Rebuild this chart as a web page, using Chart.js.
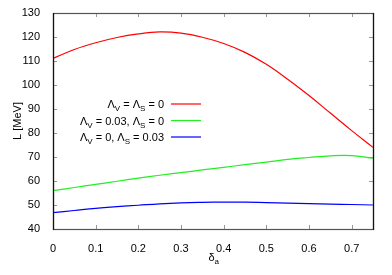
<!DOCTYPE html>
<html>
<head>
<meta charset="utf-8">
<script src="https://cdn.jsdelivr.net/npm/chart.js@4"></script>
<style>
  html, body { margin: 0; padding: 0; background: #fff; }
  #wrap { width: 392px; height: 275px; }
</style>
</head>
<body>
<div id="wrap"><canvas id="chart" width="392" height="275"></canvas></div>
<script>
// valores
const delta = [0, 0.05, 0.1, 0.15, 0.2, 0.25, 0.3, 0.35, 0.4, 0.45, 0.5, 0.55, 0.6, 0.65, 0.7, 0.75];
const redL = [111.1, 114.8, 117.6, 119.8, 121.3, 122.1, 121.6, 119.9, 117.3, 113.6, 108.6, 102.4, 95.6, 88.3, 81.0, 74.0];
const greenL = [56.0, 57.3, 58.6, 59.9, 61.2, 62.4, 63.5, 64.6, 65.7, 66.8, 67.9, 69.0, 69.8, 70.5, 70.6, 69.5];
const blueL = [46.8, 47.7, 48.6, 49.3, 49.9, 50.5, 50.9, 51.1, 51.2, 51.2, 51.0, 50.8, 50.6, 50.4, 50.2, 50.0];
const yTicks = [40, 50, 60, 70, 80, 90, 100, 110, 120, 130];
const xTicks = [0, 0.1, 0.2, 0.3, 0.4, 0.5, 0.6, 0.7];

// legenda: pedaços de texto [texto, subscrito?]
const legendLabels = [
  [['Λ', 0], ['V', 1], [' = Λ', 0], ['S', 1], [' = 0', 0]],
  [['Λ', 0], ['V', 1], [' = 0.03, Λ', 0], ['S', 1], [' = 0', 0]],
  [['Λ', 0], ['V', 1], [' = 0, Λ', 0], ['S', 1], [' = 0.03', 0]]
];
const colors = ['#ff0000', '#22ee22', '#0000ff'];

const FONT = 'Liberation Sans, Arial, Helvetica, sans-serif';

function pts(ys) {
  return delta.map((x, i) => ({ x: x, y: ys[i] }));
}

function drawRich(ctx, parts, xRight, yBase) {
  // mede primeiro para alinhar à direita
  let w = 0;
  parts.forEach(p => {
    ctx.font = (p[1] ? 8 : 11) + 'px ' + FONT;
    w += ctx.measureText(p[0]).width;
  });
  let x = xRight - w;
  parts.forEach(p => {
    ctx.font = (p[1] ? 8 : 11) + 'px ' + FONT;
    ctx.fillText(p[0], x, yBase + (p[1] ? 3 : 0));
    x += ctx.measureText(p[0]).width;
  });
}

const framePlugin = {
  id: 'frame',
  afterDraw(chart) {
    const ctx = chart.ctx;
    const a = chart.chartArea;
    const xs = chart.scales.x, ys = chart.scales.y;
    ctx.save();
    // marcas para dentro nos quatro lados
    ctx.strokeStyle = '#999';
    ctx.lineWidth = 1;
    ctx.beginPath();
    xTicks.forEach(v => {
      const px = Math.round(xs.getPixelForValue(v)) + 0.5;
      ctx.moveTo(px, a.bottom); ctx.lineTo(px, a.bottom - 4);
      ctx.moveTo(px, a.top); ctx.lineTo(px, a.top + 4);
    });
    yTicks.forEach(v => {
      const py = Math.round(ys.getPixelForValue(v)) + 0.5;
      ctx.moveTo(a.left, py); ctx.lineTo(a.left + 4, py);
      ctx.moveTo(a.right, py); ctx.lineTo(a.right - 4, py);
    });
    ctx.stroke();
    // borda
    ctx.lineWidth = 1.2;
    ctx.strokeStyle = '#555';
    ctx.strokeRect(a.left + 0.5, a.top + 0.5, a.right - a.left, a.bottom - a.top);
    ctx.strokeStyle = '#111';
    ctx.beginPath();
    ctx.moveTo(a.left + 0.5, a.top); ctx.lineTo(a.left + 0.5, a.bottom + 1);
    ctx.moveTo(a.right + 0.5, a.top); ctx.lineTo(a.right + 0.5, a.bottom + 1);
    ctx.stroke();

    // legenda
    ctx.fillStyle = '#000';
    ctx.textBaseline = 'alphabetic';
    legendLabels.forEach((parts, i) => {
      const rowY = a.top + 91 + i * 16.5;
      drawRich(ctx, parts, a.left + 111, rowY + 4);
      ctx.strokeStyle = colors[i];
      ctx.lineWidth = 1.2;
      ctx.beginPath();
      ctx.moveTo(a.left + 118, rowY);
      ctx.lineTo(a.left + 148, rowY);
      ctx.stroke();
    });

    // títulos dos eixos
    ctx.fillStyle = '#000';
    drawRich(ctx, [['δ', 0], ['a', 1]], (a.left + a.right) / 2 + 6, 261);
    ctx.translate(21, (a.top + a.bottom) / 2);
    ctx.rotate(-Math.PI / 2);
    ctx.font = '11px ' + FONT;
    ctx.textAlign = 'center';
    ctx.fillText('L [MeV]', 0, 0);
    ctx.restore();
  }
};

const ctx = document.getElementById('chart').getContext('2d');
const chart = new Chart(ctx, {
  type: 'line',
  data: {
    datasets: [
      { data: pts(redL), borderColor: colors[0] },
      { data: pts(greenL), borderColor: colors[1] },
      { data: pts(blueL), borderColor: colors[2] }
    ].map(d => Object.assign(d, {
      borderWidth: 1.2,
      pointRadius: 0,
      fill: false,
      tension: 0.4
    }))
  },
  options: {
    responsive: false,
    animation: false,
    layout: { padding: { top: 13, right: 19, left: 0, bottom: 0 } },
    plugins: { legend: { display: false }, tooltip: { enabled: false } },
    scales: {
      x: {
        type: 'linear',
        min: 0,
        max: 0.75,
        grid: { display: false },
        border: { display: false },
        afterFit: s => { s.height = 46; },
        afterBuildTicks: s => { s.ticks = xTicks.map(v => ({ value: v })); },
        ticks: {
          color: '#000',
          padding: 5,
          maxRotation: 0,
          font: { family: FONT, size: 11 },
          callback: v => String(Math.round(v * 10) / 10)
        }
      },
      y: {
        min: 40,
        max: 130,
        grid: { display: false },
        border: { display: false },
        afterFit: s => { s.width = 53; },
        afterBuildTicks: s => { s.ticks = yTicks.map(v => ({ value: v })); },
        ticks: {
          color: '#000',
          padding: 5,
          font: { family: FONT, size: 11 }
        }
      }
    }
  },
  plugins: [framePlugin]
});
</script>
</body>
</html>
